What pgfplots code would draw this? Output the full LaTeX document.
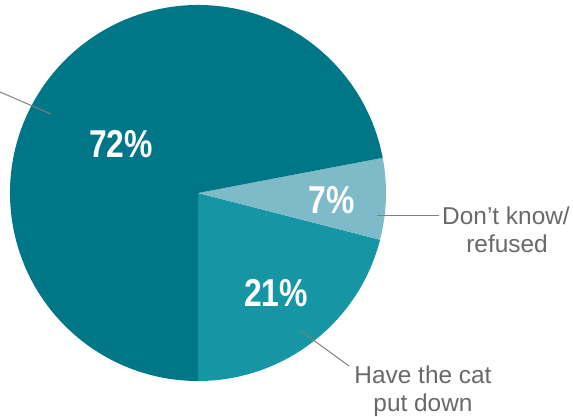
\documentclass[border=0pt]{standalone}
\usepackage{pgfplots}
\usepackage{pgfplotstable}
\usepackage{graphicx}
\usepackage{fontspec}
\setmainfont{Liberation Sans}
\pgfplotsset{compat=1.18}
\definecolor{sliceA}{RGB}{0,119,134}
\definecolor{sliceB}{RGB}{22,150,165}
\definecolor{sliceC}{RGB}{127,186,201}
\definecolor{lblgray}{RGB}{105,105,105}
\definecolor{leader}{RGB}{128,128,128}
\pgfplotstableread{
label value
cat 21
dk 7
keep 72
}\piedata
\pgfplotstablegetelem{0}{value}\of\piedata \let\vA\pgfplotsretval
\pgfplotstablegetelem{1}{value}\of\piedata \let\vB\pgfplotsretval
\pgfplotstablegetelem{2}{value}\of\piedata \let\vC\pgfplotsretval
\pgfmathsetmacro{\aStart}{-90}
\pgfmathsetmacro{\aOne}{\aStart+3.6*\vA}
\pgfmathsetmacro{\aTwo}{\aOne+3.6*\vB}
\pgfmathsetmacro{\aThree}{\aTwo+3.6*\vC}
\newcommand{\pct}[1]{\scalebox{0.82}[1]{\fontsize{39}{39}\selectfont\bfseries #1\%}}
\begin{document}
\begin{tikzpicture}
\begin{axis}[
  scale only axis, width=573bp, height=417bp,
  xmin=0, xmax=573, ymin=0, ymax=417, y dir=reverse,
  hide axis, clip=false,
  at={(0,0)}, anchor=south west,
]
\fill[sliceB] (axis cs:198,193) -- ++(\aStart:188bp) arc[start angle=\aStart, end angle=\aOne, radius=188bp] -- cycle;
\fill[sliceC] (axis cs:198,193) -- ++(\aOne:188bp) arc[start angle=\aOne, end angle=\aTwo, radius=188bp] -- cycle;
\fill[sliceA] (axis cs:198,193) -- ++(\aTwo:188bp) arc[start angle=\aTwo, end angle=\aThree, radius=188bp] -- cycle;
% leader lines
\draw[leader, line width=1bp] (axis cs:0,92) -- (axis cs:51,114);
\draw[leader, line width=1bp] (axis cs:377,215) -- (axis cs:439,215);
\draw[leader, line width=1bp] (axis cs:301,331) -- (axis cs:349,366);
% percentage labels
\node[white, anchor=base, inner sep=0] at (axis cs:121,157) {\pct{\vC}};
\node[white, anchor=base, inner sep=0] at (axis cs:332,213) {\pct{\vB}};
\node[white, anchor=base, inner sep=0] at (axis cs:276,306) {\pct{\vA}};
% category labels
\node[lblgray, anchor=base, inner sep=0, font=\fontsize{24.5}{28}\selectfont] at (axis cs:506,224) {Don’t know/};
\node[lblgray, anchor=base, inner sep=0, font=\fontsize{24.5}{28}\selectfont] at (axis cs:507,252) {refused};
\node[lblgray, anchor=base, inner sep=0, font=\fontsize{24.5}{28}\selectfont] at (axis cs:423,383) {Have the cat};
\node[lblgray, anchor=base, inner sep=0, font=\fontsize{24.5}{28}\selectfont] at (axis cs:423,411) {put down};
\end{axis}
\pgfresetboundingbox
\path[use as bounding box] (0,0) rectangle (573bp,417bp);
\end{tikzpicture}
\end{document}
